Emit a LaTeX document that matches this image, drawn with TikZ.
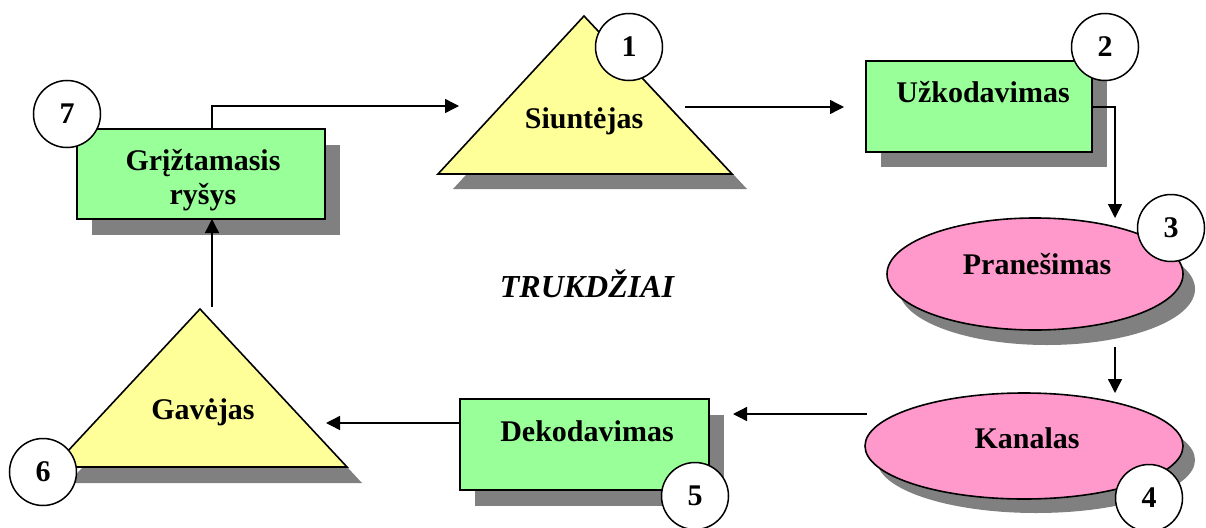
\documentclass[tikz,border=0pt]{standalone}
\usepackage{fontspec}
\setmainfont{Liberation Serif}
\usetikzlibrary{arrows.meta}
\definecolor{boxgreen}{HTML}{99FF99}
\definecolor{triyellow}{HTML}{FFFF99}
\definecolor{ovalpink}{HTML}{FF99CC}
\definecolor{shadowgray}{HTML}{808080}

\begin{document}
\begin{tikzpicture}[x=1pt,y=-1pt,
  lbl/.style={font=\fontsize{30}{34}\selectfont\bfseries, align=center, inner sep=0pt, anchor=base},
  outline/.style={draw=black, line width=1.6pt},
  shade/.style={fill=shadowgray},
  num/.style={circle, draw=black, fill=white, line width=1.5pt, minimum size=67pt,
              inner sep=0pt, font=\fontsize{30}{34}\selectfont\bfseries},
  link/.style={line width=1.4pt, -{Triangle[length=14pt,width=14pt]}},
]
\useasboundingbox (0,0) rectangle (1206,527);

% drop shadows
\fill[shade] (92,145) rectangle (340,235);
\fill[shade] (599,31) -- (747,189) -- (453,189) -- cycle;
\fill[shade] (881,76) rectangle (1107,167);
\fill[shade] (1047,289) ellipse [x radius=148pt, y radius=56pt];
\fill[shade] (1036,460) ellipse [x radius=159pt, y radius=53pt];
\fill[shade] (475,415) rectangle (724,506);
\fill[shade] (215,325) -- (362,483) -- (68,483) -- cycle;

% shapes
\filldraw[outline, fill=boxgreen] (77,129) rectangle (325,219);
\filldraw[outline, fill=triyellow] (584,16) -- (732,174) -- (438,174) -- cycle;
\filldraw[outline, fill=boxgreen] (866,61) rectangle (1092,152);
\filldraw[outline, fill=ovalpink] (1035,274) ellipse [x radius=148pt, y radius=56pt];
\filldraw[outline, fill=ovalpink] (1024,446) ellipse [x radius=159pt, y radius=53pt];
\filldraw[outline, fill=boxgreen] (460,399) rectangle (709,490);
\filldraw[outline, fill=triyellow] (200,309) -- (347,467) -- (53,467) -- cycle;

% labels (base anchor of a two-line node sits on its last line)
\node[lbl] (feedback) at (203,204) {Grįžtamasis\\ryšys};
\node[lbl] (sender) at (584,128) {Siuntėjas};
\node[lbl] (encode) at (983,102) {Užkodavimas};
\node[lbl] (message) at (1037,274) {Pranešimas};
\node[lbl] (channel) at (1027,448) {Kanalas};
\node[lbl] (decode) at (587,441) {Dekodavimas};
\node[lbl] (receiver) at (203,419) {Gavėjas};
\node[lbl, font=\fontsize{32}{36}\selectfont\bfseries\itshape] (noise) at (587,297) {TRUKDŽIAI};

% connector end points
\coordinate (fbTop) at (212,129);
\coordinate (fbIn) at (212,219);
\coordinate (sIn) at (459,106);
\coordinate (sOut) at (685,107);
\coordinate (eIn) at (844,107);
\coordinate (eOut) at (1092,107);
\coordinate (mIn) at (1115,218);
\coordinate (mOut) at (1115,347);
\coordinate (cIn) at (1115,393);
\coordinate (cOut) at (867,414);
\coordinate (dIn) at (733,414);
\coordinate (dOut) at (460,423);
\coordinate (rIn) at (326,423);
\coordinate (rOut) at (212,307);

% connectors
\draw[link] (fbTop) |- (sIn);
\draw[link] (sOut) -- (eIn);
\draw[link] (eOut) -| (mIn);
\draw[link] (mOut) -- (cIn);
\draw[link] (cOut) -- (dIn);
\draw[link] (dOut) -- (rIn);
\draw[link] (rOut) -- (fbIn);

% step numbers
\node[num] (n1) at (629,47) {1};
\node[num] (n2) at (1105,47) {2};
\node[num] (n3) at (1171,228) {3};
\node[num] (n4) at (1149,498) {4};
\node[num] (n5) at (695,496) {5};
\node[num] (n6) at (43,472) {6};
\node[num] (n7) at (67,114) {7};
\end{tikzpicture}
\end{document}
